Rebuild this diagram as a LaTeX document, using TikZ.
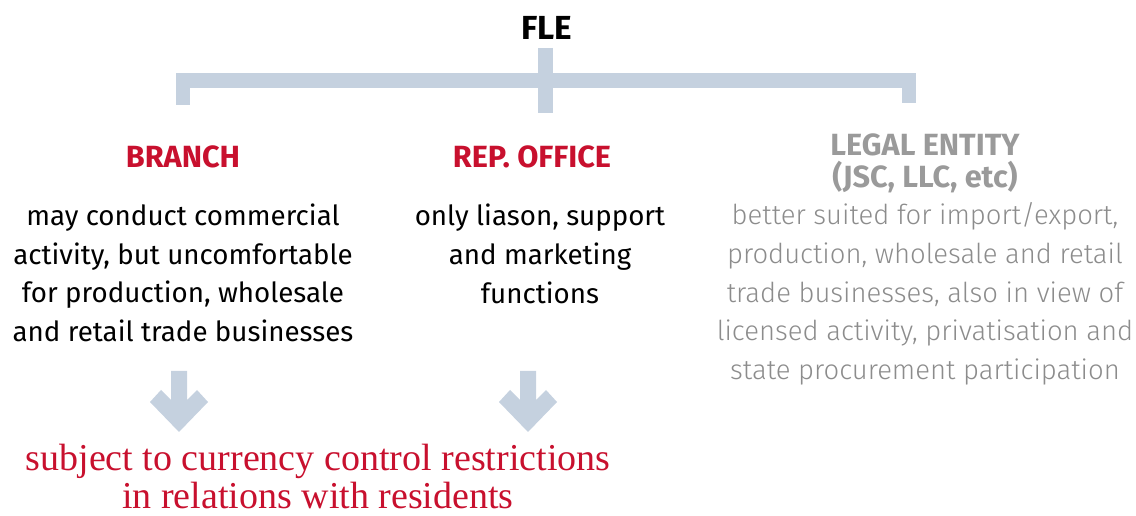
\documentclass[tikz,border=0pt]{standalone}
\usepackage{fontspec}
\setmainfont{Fira Sans}
\newfontfamily\lightfont{Fira Sans Light}
\newfontfamily\notefont{Liberation Serif}
\usetikzlibrary{positioning,calc}
\definecolor{barblue}{HTML}{C5D1DF}
\definecolor{fred}{HTML}{C8102E}
\definecolor{headgrey}{HTML}{9A9A9A}
\definecolor{bodygrey}{HTML}{8C8C8C}
\tikzset{fat arrow/.pic={
    \fill[barblue] (-8,0) -- (8,0) -- (8,29) -- (18,19) -- (29,31) -- (0,61)
        -- (-29,31) -- (-18,19) -- (-8,29) -- cycle;
}}

\begin{document}
\begin{tikzpicture}[x=0.75pt,y=-0.75pt,
    head/.style={font=\bfseries\fontsize{23}{24}\selectfont, align=center, inner sep=0pt},
    body/.style={font=\fontsize{20.8}{29}\selectfont, align=center, inner sep=0pt},
    bar/.style={draw=barblue, line width=10.8pt, line join=miter}]
    \useasboundingbox (0,0) rectangle (1136,516);

    % top of the tree
    \node [head, font=\bfseries\fontsize{25}{24}\selectfont] (fle) at (547,28) {FLE};
    \coordinate (stem top) at (545.5,48);
    \coordinate (stem foot) at (545.5,113);
    \coordinate (left foot) at (183,105);
    \coordinate (right foot) at (909,103);

    \draw [bar] (left foot) -- (left foot |- 0,80.5) -- (right foot |- 0,80.5) -- (right foot);
    \draw [bar] (stem top) -- (stem foot);

    % three kinds of presence
    \node [head, text=fred] (branch) at (183,157) {BRANCH};
    \node [head, text=fred] (rep) at (532,157) {REP. OFFICE};
    \node [head, text=headgrey] (legal) at (925,163) {LEGAL ENTITY\\(JSC, LLC, etc)};

    \node [body] (branch text) at (183,273) {may conduct commercial\\
        activity, but uncomfortable\\
        for production, wholesale\\
        and retail trade businesses};
    \node [body] (rep text) at (540,254) {only liason, support\\
        and marketing\\
        functions};
    \node [body, font=\lightfont\fontsize{20.6}{29}\selectfont, text=bodygrey] (legal text) at (925,294) {better suited for import/export,\\
        production, wholesale and retail\\
        trade businesses, also in view of\\
        licensed activity, privatisation and\\
        state procurement participation};

    % arrows to the note
    \pic at (179,371) {fat arrow};
    \pic at (528,371) {fat arrow};

    \node [font=\notefont\fontsize{28.5}{28.5}\selectfont, text=fred, align=center, inner sep=0pt] (note) at (318,477)
        {subject to currency control restrictions\\in relations with residents};
\end{tikzpicture}
\end{document}
